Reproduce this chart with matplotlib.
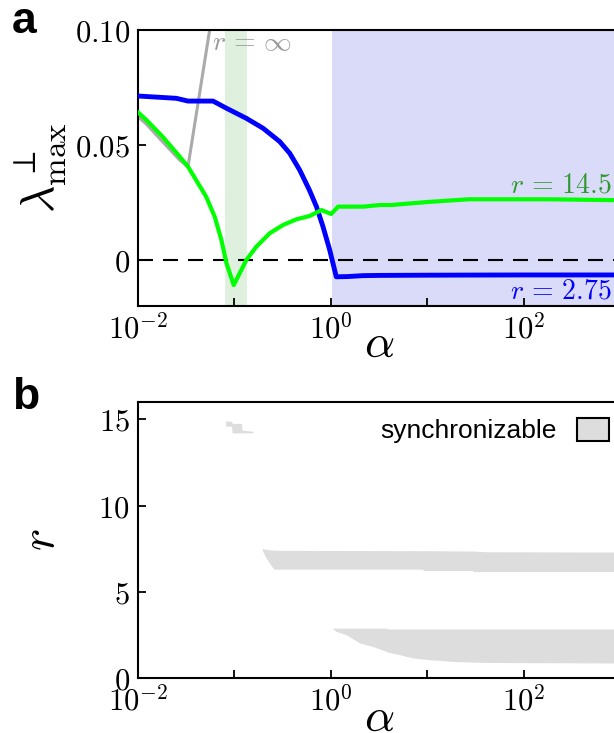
import matplotlib
matplotlib.use("Agg")
import matplotlib.pyplot as plt
from matplotlib.patches import Patch
import numpy as np

plt.rcParams['mathtext.fontset'] = 'cm'
plt.rcParams['font.family'] = ['Liberation Sans', 'DejaVu Sans']

# ---------------- data: panel a ----------------
alpha_blue = [0.01, 0.025, 0.033, 0.06, 0.0826, 0.133, 0.198, 0.295, 0.375, 0.476,
              0.60, 0.71, 0.83, 0.975, 1.14, 1.5, 2.16, 3.2, 10, 100, 1000]
lam_blue = [0.0713, 0.0703, 0.0691, 0.0691, 0.066, 0.0616, 0.0573, 0.0515, 0.0464, 0.0391,
            0.0304, 0.0232, 0.0145, 0.0043, -0.0073, -0.0072, -0.0068, -0.0067, -0.0066, -0.0065, -0.0065]

alpha_green = [0.01, 0.0122, 0.018, 0.027, 0.033, 0.040, 0.051, 0.0625, 0.0733, 0.0826,
               0.0984, 0.133, 0.169, 0.232, 0.319, 0.44, 0.60, 0.80, 1.01, 1.19,
               2.16, 3.2, 4.2, 10.7, 27, 178, 1000]
lam_green = [0.0642, 0.0609, 0.0536, 0.045, 0.0406, 0.0348, 0.0275, 0.0188, 0.0087, -0.0013,
             -0.0109, 0.0, 0.0058, 0.0116, 0.0152, 0.0177, 0.0191, 0.0217, 0.0200, 0.0232,
             0.0232, 0.0239, 0.0239, 0.0253, 0.0264, 0.0264, 0.0260]

alpha_gray = [0.01, 0.0122, 0.018, 0.027, 0.033, 0.0555, 0.063]
lam_gray = [0.0623, 0.0591, 0.0514, 0.0435, 0.0406, 0.1003, 0.115]

green_span = (0.080, 0.135)
blue_span = (1.02, 1000)

# ---------------- data: panel b ----------------
bandA_alpha = [0.081, 0.093, 0.095, 0.118, 0.120, 0.156]
bandA_high = [14.89, 14.89, 14.76, 14.76, 14.37, 14.30]
bandA_low = [14.60, 14.60, 14.21, 14.21, 14.21, 14.21]

bandB_alpha = [0.195, 0.21, 0.235, 0.257, 0.30, 9.0, 9.1, 29.5, 30, 40, 1000]
bandB_high = [7.52, 7.47, 7.43, 7.41, 7.40, 7.38, 7.38, 7.36, 7.36, 7.32, 7.30]
bandB_low = [7.40, 7.00, 6.60, 6.31, 6.31, 6.31, 6.23, 6.23, 6.17, 6.17, 6.17]

bandC_alpha = [1.04, 1.14, 1.45, 2.0, 2.72, 3.77, 3.9, 5.19, 7.08, 10.6, 18.4, 41, 1000]
bandC_high = [2.89, 2.89, 2.89, 2.89, 2.89, 2.89, 2.84, 2.84, 2.84, 2.84, 2.84, 2.84, 2.84]
bandC_low = [2.87, 2.70, 2.50, 2.03, 1.83, 1.54, 1.50, 1.35, 1.16, 1.06, 0.96, 0.90, 0.87]

xtick_vals = [1e-2, 1e-1, 1e0, 1e1, 1e2, 1e3]
xtick_labels = [r'$10^{-2}$', '', r'$10^{0}$', '', r'$10^{2}$', '']

# ---------------- figure ----------------
W, H = 614, 733
fig = plt.figure(figsize=(W / 100, H / 100), dpi=100)
ax1 = fig.add_axes([138 / W, 1 - 306 / H, 482 / W, 276 / H])
ax2 = fig.add_axes([138 / W, 1 - 678 / H, 482 / W, 276 / H])

tick_fs = 22
for ax in (ax1, ax2):
    ax.set_xscale('log')
    ax.set_xlim(1e-2, 1e3)
    ax.set_xticks(xtick_vals)
    ax.set_xticklabels(xtick_labels, fontsize=tick_fs)
    ax.xaxis.set_minor_locator(matplotlib.ticker.NullLocator())
    ax.tick_params(direction='in', length=6, width=1.3, pad=6, labelsize=tick_fs)
    for s in ax.spines.values():
        s.set_linewidth(1.5)

# panel a
ax1.axvspan(*green_span, color='#dff0df', lw=0, zorder=0)
ax1.axvspan(*blue_span, color='#dadaf9', lw=0, zorder=0)
ax1.axhline(0, color='black', lw=1.5, linestyle=(0, (7.2, 4.8)), zorder=1)
ax1.plot(alpha_gray, lam_gray, color='#aaaaaa', lw=2.2, zorder=2)
ax1.plot(alpha_blue, lam_blue, color='#0000ff', lw=3.5, zorder=3)
ax1.plot(alpha_green, lam_green, color='#00ff00', lw=3.0, zorder=4)
ax1.set_ylim(-0.02, 0.10)
ax1.set_yticks([0, 0.05, 0.10])
ax1.set_yticklabels([r'$0$', r'$0.05$', r'$0.10$'], fontsize=tick_fs)

ax1.text(0.059, 0.0945, r'$r\,=\,\infty$', color='#999999', fontsize=20, ha='left', va='center')
ax1.text(820, 0.0326, r'$r\,=\,14.5$', color='#2e9a2e', fontsize=20, ha='right', va='center')
ax1.text(820, -0.0135, r'$r\,=\,2.75$', color='#0000ff', fontsize=20, ha='right', va='center')

ax1.set_ylabel(r'$\lambda^{\perp}_{\mathrm{max}}$', fontsize=34)
ax1.yaxis.label.set_va('center')
ax1.yaxis.set_label_coords(-0.203, 0.5)
ax1.set_xlabel(r'$\alpha$', fontsize=34)
ax1.xaxis.label.set_va('center')
ax1.xaxis.set_label_coords(0.5, -0.141)

# panel b
for a, lo, hi in ((bandA_alpha, bandA_low, bandA_high),
                  (bandB_alpha, bandB_low, bandB_high),
                  (bandC_alpha, bandC_low, bandC_high)):
    ax2.fill_between(a, lo, hi, color='#dddddd', lw=0)
ax2.set_ylim(0, 16)
ax2.set_yticks([0, 5, 10, 15])
ax2.set_yticklabels([r'$0$', r'$5$', r'$10$', r'$15$'], fontsize=tick_fs)
ax2.set_ylabel(r'$r$', fontsize=34)
ax2.yaxis.label.set_va('center')
ax2.yaxis.set_label_coords(-0.199, 0.5)
ax2.set_xlabel(r'$\alpha$', fontsize=34)
ax2.xaxis.label.set_va('center')
ax2.xaxis.set_label_coords(0.5, -0.148)

handle = Patch(facecolor='#dddddd', edgecolor='black', linewidth=1.5)
ax2.legend([handle], ['synchronizable'], loc='upper right', frameon=False,
           markerfirst=False, fontsize=19, handlelength=1.2, handleheight=0.95,
           handletextpad=0.8, borderaxespad=0.2, bbox_to_anchor=(1.01, 1.0))

fig.text(12 / W, 1 - 33 / H, 'a', fontsize=32, fontweight='bold', ha='left', va='baseline')
fig.text(12 / W, 1 - 409 / H, 'b', fontsize=32, fontweight='bold', ha='left', va='baseline')

fig.savefig('out.png', dpi=100)
